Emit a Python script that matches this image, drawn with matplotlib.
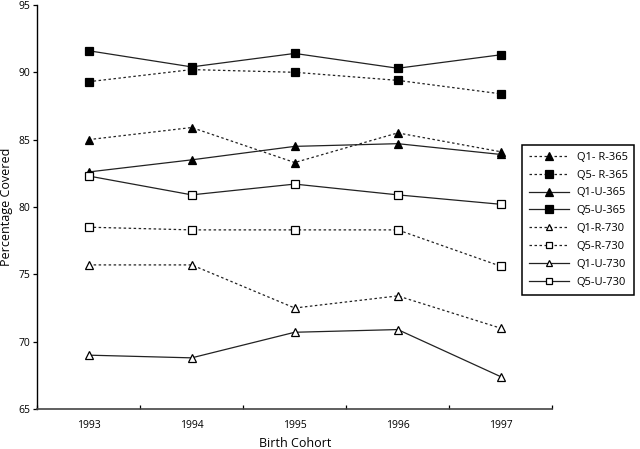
import matplotlib as mpl
import matplotlib.pyplot as plt

mpl.rcParams['font.family'] = ['Open Sans', 'DejaVu Sans']

years = ['1993', '1994', '1995', '1996', '1997']

q1_r_365 = [85.0, 85.9, 83.3, 85.5, 84.1]
q5_r_365 = [89.3, 90.2, 90.0, 89.4, 88.4]
q1_u_365 = [82.6, 83.5, 84.5, 84.7, 83.9]
q5_u_365 = [91.6, 90.4, 91.4, 90.3, 91.3]
q1_r_730 = [75.7, 75.7, 72.5, 73.4, 71.0]
q5_r_730 = [78.5, 78.3, 78.3, 78.3, 75.6]
q1_u_730 = [69.0, 68.8, 70.7, 70.9, 67.4]
q5_u_730 = [82.3, 80.9, 81.7, 80.9, 80.2]

series = [
    ('Q1- R-365', q1_r_365, '^', 'black', (0, (2, 2))),
    ('Q5- R-365', q5_r_365, 's', 'black', (0, (2, 2))),
    ('Q1-U-365', q1_u_365, '^', 'black', '-'),
    ('Q5-U-365', q5_u_365, 's', 'black', '-'),
    ('Q1-R-730', q1_r_730, '^', 'white', (0, (2, 2))),
    ('Q5-R-730', q5_r_730, 's', 'white', (0, (2, 2))),
    ('Q1-U-730', q1_u_730, '^', 'white', '-'),
    ('Q5-U-730', q5_u_730, 's', 'white', '-'),
]


def plot():
    fig = plt.figure(figsize=(6.4, 4.49), dpi=100)
    ax = fig.add_axes([0.058, 0.089, 0.805, 0.9])
    x = range(len(years))
    for label, vals, marker, face, ls in series:
        ms = 6 if face == 'black' else 5.5
        ax.plot(x, vals, color='#222222', lw=0.9, ls=ls, marker=marker,
                ms=ms, mfc=face, mec='black', mew=0.9, label=label)

    ax.set_xlim(-0.5, 4.5)
    ax.set_ylim(65, 95)
    ax.set_yticks([65, 70, 75, 80, 85, 90, 95])
    ax.set_xticks(list(x))
    ax.set_xticklabels(years)
    ax.set_xticks([i - 0.5 for i in range(6)], minor=True)
    ax.tick_params(axis='x', which='major', length=0, labelsize=7.5, pad=8)
    ax.tick_params(axis='x', which='minor', length=3, direction='in', width=0.9)
    ax.tick_params(axis='y', length=3, width=0.9, labelsize=7.5, pad=2)
    for side in ['top', 'right']:
        ax.spines[side].set_visible(False)
    ax.spines['left'].set_linewidth(1.0)
    ax.spines['bottom'].set_linewidth(1.2)
    ax.spines['bottom'].set_color('#444444')
    ax.set_xlabel('Birth Cohort', fontsize=9, labelpad=4)
    ax.set_ylabel('Percentage Covered', fontsize=9, labelpad=4)

    leg = ax.legend(loc='upper left', bbox_to_anchor=(0.816, 0.677),
                    bbox_transform=fig.transFigure, borderaxespad=0,
                    fontsize=8, numpoints=1, handlelength=3.6,
                    markerscale=0.85,
                    fancybox=False, framealpha=1, edgecolor='black',
                    labelspacing=0.62, borderpad=0.6, handletextpad=0.7)
    leg.get_frame().set_linewidth(1.1)

    plt.savefig('out.png', dpi=100)


if __name__ == '__main__':
    plot()
